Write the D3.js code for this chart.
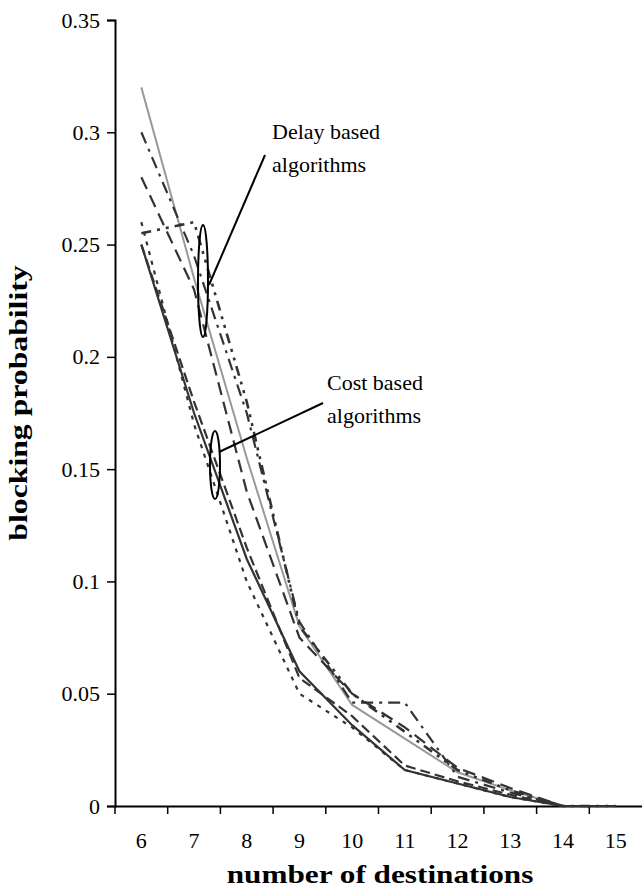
<!DOCTYPE html>
<html>
<head>
<meta charset="utf-8">
<script src="https://cdn.jsdelivr.net/npm/d3@7"></script>
<style>
  html, body { margin: 0; padding: 0; background: #fff; }
  svg { display: block; }
  text { font-family: "Liberation Serif", "Times New Roman", serif; fill: #000; }
</style>
</head>
<body>
<svg id="chart" width="642" height="888"></svg>
<script>
// number of destinations (x categories)
const destinations = ["6", "7", "8", "9", "10", "11", "12", "13", "14", "15"];
const yTicks = [0, 0.05, 0.1, 0.15, 0.2, 0.25, 0.3, 0.35];

// blocking probability per algorithm
const delayGray   = [0.32, 0.235, 0.155, 0.08, 0.045, 0.03, 0.015, 0.007, 0, 0];
const delayDashDot = [0.30, 0.245, 0.175, 0.082, 0.046, 0.046, 0.013, 0.006, 0, 0];
const delayLongDash = [0.28, 0.23, 0.14, 0.075, 0.05, 0.035, 0.017, 0.008, 0, 0];
const delaySquareDot = [0.255, 0.26, 0.18, 0.08, 0.05, 0.033, 0.016, 0.007, 0, 0];
const costSolid   = [0.25, 0.175, 0.11, 0.06, 0.036, 0.016, 0.01, 0.004, 0, 0];
const costDashed  = [0.25, 0.18, 0.115, 0.057, 0.04, 0.018, 0.011, 0.005, 0, 0];
const costDotted  = [0.26, 0.17, 0.10, 0.05, 0.035, 0.016, 0.01, 0.004, 0, 0];

const series = [
  { values: delayGray, color: "#999", width: 2, dash: null },
  { values: delayDashDot, color: "#333", width: 2.2, dash: "12,6,3,6" },
  { values: delayLongDash, color: "#333", width: 2.2, dash: "13,7" },
  { values: delaySquareDot, color: "#333", width: 2.6, dash: "10,6,3,6,3,6" },
  { values: costSolid, color: "#333", width: 2.2, dash: null },
  { values: costDashed, color: "#333", width: 2.2, dash: "10,5" },
  { values: costDotted, color: "#333", width: 2.2, dash: "4,6" }
];

const svg = d3.select("#chart");
const plotLeft = 115, plotRight = 642, plotTop = 20, plotBottom = 806;

const x = d3.scaleBand().domain(destinations).range([plotLeft, plotRight]);
const y = d3.scaleLinear().domain([0, 0.35]).range([plotBottom, plotTop]);

// axes
const yAxis = d3.axisLeft(y).tickValues(yTicks).tickSize(8).tickPadding(7)
  .tickFormat(d => d === 0 ? "0" : String(+d.toFixed(2)));
svg.append("g").attr("transform", `translate(${plotLeft},0)`).call(yAxis)
  .call(g => g.selectAll("text").attr("font-size", 22).style("font-family", '"Liberation Serif", serif'));

const xAxis = d3.axisBottom(x).tickSize(0).tickPadding(26);
const gx = svg.append("g").attr("transform", `translate(0,${plotBottom})`).call(xAxis);
gx.selectAll("text").attr("font-size", 22).style("font-family", '"Liberation Serif", serif');
// tick marks at category boundaries
gx.selectAll(".bound").data(destinations).join("line")
  .attr("x1", d => x(d)).attr("x2", d => x(d))
  .attr("y1", 0).attr("y2", 8).attr("stroke", "#000").attr("stroke-width", 1.5);
svg.selectAll(".domain").attr("stroke", "#000").attr("stroke-width", 2);
svg.selectAll(".tick line").attr("stroke", "#000").attr("stroke-width", 1.5);

// series lines
const line = d3.line()
  .x((d, i) => x(destinations[i]) + x.bandwidth() / 2)
  .y(d => y(d));

svg.append("g").selectAll("path").data(series).join("path")
  .attr("d", s => line(s.values))
  .attr("fill", "none")
  .attr("stroke", s => s.color)
  .attr("stroke-width", s => s.width)
  .attr("stroke-dasharray", s => s.dash);

// axis titles, bold lettering widened along the reading direction
svg.append("text").attr("transform", "translate(380,883) scale(1.25,1)")
  .attr("text-anchor", "middle")
  .attr("font-size", 25).attr("font-weight", "bold")
  .text("number of destinations");
svg.append("text").attr("transform", "translate(27,403) rotate(-90) scale(1.22,1)")
  .attr("text-anchor", "middle")
  .attr("font-size", 26).attr("font-weight", "bold")
  .text("blocking probability");

// callouts grouping the two algorithm families
const callouts = [
  { cx: 203, cy: 281, rx: 5, ry: 56, from: [209, 285], to: [265, 155],
    lines: ["Delay based", "algorithms"], tx: 272, ty: 139 },
  { cx: 215, cy: 465, rx: 5, ry: 34, from: [219, 452], to: [323, 403],
    lines: ["Cost based", "algorithms"], tx: 327, ty: 390 }
];
callouts.forEach(c => {
  svg.append("ellipse").attr("cx", c.cx).attr("cy", c.cy).attr("rx", c.rx).attr("ry", c.ry)
    .attr("fill", "none").attr("stroke", "#000").attr("stroke-width", 2);
  svg.append("line").attr("x1", c.from[0]).attr("y1", c.from[1]).attr("x2", c.to[0]).attr("y2", c.to[1])
    .attr("stroke", "#000").attr("stroke-width", 2);
  c.lines.forEach((t, i) => {
    svg.append("text").attr("x", c.tx).attr("y", c.ty + i * 33).attr("font-size", 22).text(t);
  });
});
</script>
</body>
</html>
